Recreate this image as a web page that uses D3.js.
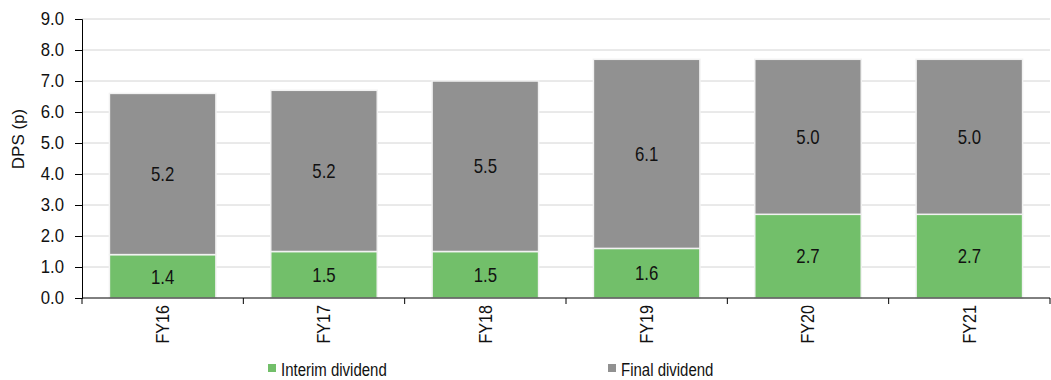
<!DOCTYPE html>
<html>
<head>
<meta charset="utf-8">
<script src="https://cdn.jsdelivr.net/npm/d3@7"></script>
<style>
  body { margin: 0; background: #fff; }
  text { font-family: "Liberation Sans", Arial, sans-serif; fill: #111; }
</style>
</head>
<body>
<div id="chart"></div>
<script>
// data
var years = ["FY16", "FY17", "FY18", "FY19", "FY20", "FY21"];
var interim = [1.4, 1.5, 1.5, 1.6, 2.7, 2.7];
var finalDiv = [5.2, 5.2, 5.5, 6.1, 5.0, 5.0];
var yTicks = [0, 1, 2, 3, 4, 5, 6, 7, 8, 9];
var seriesNames = ["Interim dividend", "Final dividend"];
var seriesColors = ["#72bf6a", "#919191"];

var W = 1051, H = 380;
var margin = {t: 19, r: 1, b: 82, l: 82};
var w = W - margin.l - margin.r;
var h = H - margin.t - margin.b;

var svg = d3.select("#chart").append("svg")
    .attr("width", W)
    .attr("height", H);

var g = svg.append("g")
    .attr("transform", "translate(" + margin.l + "," + margin.t + ")");

var x = d3.scaleBand().domain(years).range([0, w]).paddingInner(0.34).paddingOuter(0.17);
var y = d3.scaleLinear().domain([0, 9]).range([h, 0]);

// gridlines
g.selectAll(".grid")
    .data(yTicks.slice(1))
    .enter().append("line")
    .attr("x1", 0).attr("x2", w)
    .attr("y1", function (d) { return y(d); })
    .attr("y2", function (d) { return y(d); })
    .attr("stroke", "#d4d4d4")
    .attr("stroke-width", 1);

// stacked bars
var rows = years.map(function (yr, i) {
    return {year: yr, interim: interim[i], final: finalDiv[i]};
});
var series = d3.stack().keys(["interim", "final"])(rows);

var layers = g.selectAll(".layer")
    .data(series)
    .enter().append("g")
    .attr("fill", function (d, i) { return seriesColors[i]; });

layers.selectAll("rect")
    .data(function (d) { return d; })
    .enter().append("rect")
    .attr("x", function (d) { return x(d.data.year); })
    .attr("y", function (d) { return y(d[1]); })
    .attr("width", x.bandwidth())
    .attr("height", function (d) { return y(d[0]) - y(d[1]); })
    .attr("stroke", "#f2f2f2")
    .attr("stroke-width", 1.5);

// value labels (condensed like the original)
layers.selectAll(".val")
    .data(function (d) { return d; })
    .enter().append("text")
    .attr("transform", function (d) {
        return "translate(" + (x(d.data.year) + x.bandwidth() / 2) + "," + ((y(d[0]) + y(d[1])) / 2) + ") scale(0.84,1)";
    })
    .attr("dy", "0.36em")
    .attr("text-anchor", "middle")
    .style("font-size", "20px")
    .text(function (d) { return (d[1] - d[0]).toFixed(1); });

// y axis
var yAxis = g.append("g")
    .call(d3.axisLeft(y).tickValues(yTicks).tickSize(7).tickPadding(11)
        .tickFormat(function (d) { return d.toFixed(1); }));
yAxis.select(".domain").attr("stroke", "#000");
yAxis.selectAll("line").attr("stroke", "#000");
yAxis.selectAll("text")
    .attr("x", null)
    .attr("transform", "translate(-18,0) scale(0.93,1)")
    .style("font-size", "18px").attr("fill", "#111")
    .style("font-family", '"Liberation Sans", Arial, sans-serif');

// x axis: line with ticks at category boundaries
var xAxis = g.append("g").attr("transform", "translate(0," + h + ")");
xAxis.append("line")
    .attr("x1", 0).attr("x2", w)
    .attr("stroke", "#000");
var step = x.step();
var x0 = x(years[0]) - x.paddingOuter() * step;
xAxis.selectAll(".tk")
    .data(d3.range(years.length + 1))
    .enter().append("line")
    .attr("x1", function (d) { return x0 + d * step; })
    .attr("x2", function (d) { return x0 + d * step; })
    .attr("y1", 0).attr("y2", 6)
    .attr("stroke", "#000");

xAxis.selectAll(".xl")
    .data(years)
    .enter().append("text")
    .attr("transform", function (d) {
        return "translate(" + (x(d) + x.bandwidth() / 2) + ",7) rotate(-90) scale(0.95,1.05)";
    })
    .attr("dy", "0.36em")
    .attr("text-anchor", "end")
    .style("font-size", "17px")
    .text(function (d) { return d; });

// y title
svg.append("text")
    .attr("transform", "translate(24,139) rotate(-90)")
    .attr("text-anchor", "middle")
    .style("font-size", "17px")
    .text("DPS (p)");

// legend
var legendX = [268, 608];
var legend = svg.selectAll(".leg")
    .data(seriesNames)
    .enter().append("g")
    .attr("transform", function (d, i) { return "translate(" + legendX[i] + ",364)"; });
legend.append("rect")
    .attr("width", 8).attr("height", 8)
    .attr("fill", function (d, i) { return seriesColors[i]; });
legend.append("text")
    .attr("transform", "translate(13,11.5) scale(0.81,1)")
    .style("font-size", "18.5px")
    .text(function (d) { return d; });
</script>
</body>
</html>
